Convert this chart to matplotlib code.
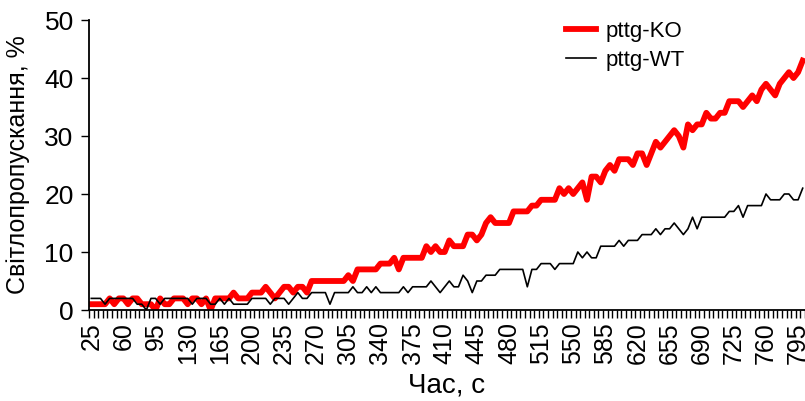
import matplotlib.pyplot as plt
import numpy as np

# time axis, seconds (one reading every 5 s)
time_s = list(range(25, 805, 5))

pttg_ko = [1, 1, 1, 1, 2, 1, 2, 2, 1, 2, 2, 1, 1, 1, 0, 2, 1, 1, 2, 2,
           2, 1, 2, 2, 1, 2, 0, 2, 2, 2, 2, 3, 2, 2, 2, 3, 3, 3, 4, 3,
           2, 3, 4, 4, 3, 4, 4, 3, 5, 5, 5, 5, 5, 5, 5, 5, 6, 5, 7, 7,
           7, 7, 7, 8, 8, 8, 9, 7, 9, 9, 9, 9, 9, 11, 10, 11, 10, 10, 12, 11,
           11, 11, 13, 13, 12, 13, 15, 16, 15, 15, 15, 15, 17, 17, 17, 17, 18, 18, 19, 19,
           19, 19, 21, 20, 21, 20, 21, 22, 19, 23, 23, 22, 24, 25, 24, 26, 26, 26, 25, 27,
           27, 25, 27, 29, 28, 29, 30, 31, 30, 28, 32, 31, 32, 32, 34, 33, 33, 34, 34, 36,
           36, 36, 35, 36, 37, 36, 38, 39, 38, 37, 39, 40, 41, 40, 41, 43]

pttg_wt = [2, 2, 2, 1, 2, 2, 2, 2, 2, 2, 1, 1, 0, 2, 2, 1, 2, 2, 2, 2,
           2, 2, 1, 2, 2, 2, 1, 1, 2, 1, 2, 1, 1, 1, 1, 2, 2, 2, 2, 1,
           2, 2, 2, 1, 2, 3, 2, 2, 3, 3, 3, 3, 1, 3, 3, 3, 3, 4, 3, 3,
           4, 3, 4, 3, 3, 3, 3, 3, 4, 3, 4, 4, 4, 4, 5, 4, 3, 4, 5, 4,
           4, 6, 5, 3, 5, 5, 6, 6, 6, 7, 7, 7, 7, 7, 7, 4, 7, 7, 8, 8,
           8, 7, 8, 8, 8, 8, 10, 9, 10, 9, 9, 11, 11, 11, 11, 12, 11, 12, 12, 12,
           13, 13, 13, 14, 13, 14, 14, 15, 14, 13, 14, 16, 14, 16, 16, 16, 16, 16, 16, 17,
           17, 18, 16, 18, 18, 18, 18, 20, 19, 19, 19, 20, 20, 19, 19, 21]

y_ticks = [0, 10, 20, 30, 40, 50]

font = ['Liberation Sans']

fig = plt.figure(figsize=(8.05, 4.01), dpi=100)
ax = fig.add_axes([89 / 805, 91 / 401, 1 - 89 / 805, 290 / 401])

x = np.arange(len(time_s))
ax.plot(x, pttg_ko, color='#ff0000', lw=4.2, label='pttg-KO')
ax.plot(x, pttg_wt, color='black', lw=1.2, label='pttg-WT')

ax.set_xlim(-0.5, len(time_s) - 0.5)
ax.set_ylim(0, 50)

# category axis: labels every 7th reading, tick marks between readings
lab_idx = x[::7]
ax.set_xticks(lab_idx)
ax.set_xticklabels([str(time_s[i]) for i in lab_idx], rotation=90,
                   family=font, fontsize=18)
ax.set_xticks(np.arange(-0.5, len(time_s), 1), minor=True)
ax.tick_params(axis='x', which='major', length=0, pad=9)
ax.tick_params(axis='x', which='minor', length=6, width=1, direction='out')

ax.set_yticks(y_ticks)
ax.set_yticklabels([str(v) for v in y_ticks], family=font, fontsize=19)
ax.tick_params(axis='y', length=6, width=1, direction='out', pad=5)

for side in ('top', 'right'):
    ax.spines[side].set_visible(False)
for side in ('left', 'bottom'):
    ax.spines[side].set_linewidth(1.3)

ax.set_xlabel('Час, с', family=font, fontsize=20, labelpad=6)
ax.set_ylabel('Світлопропускання, %', family=font, fontsize=18, labelpad=10)

ax.legend(loc='upper right', bbox_to_anchor=(0.86, 1.065), frameon=False,
          prop={'family': font, 'size': 16}, handlelength=1.35,
          handletextpad=0.45, labelspacing=0.35)

fig.savefig('out.png', dpi=100)
